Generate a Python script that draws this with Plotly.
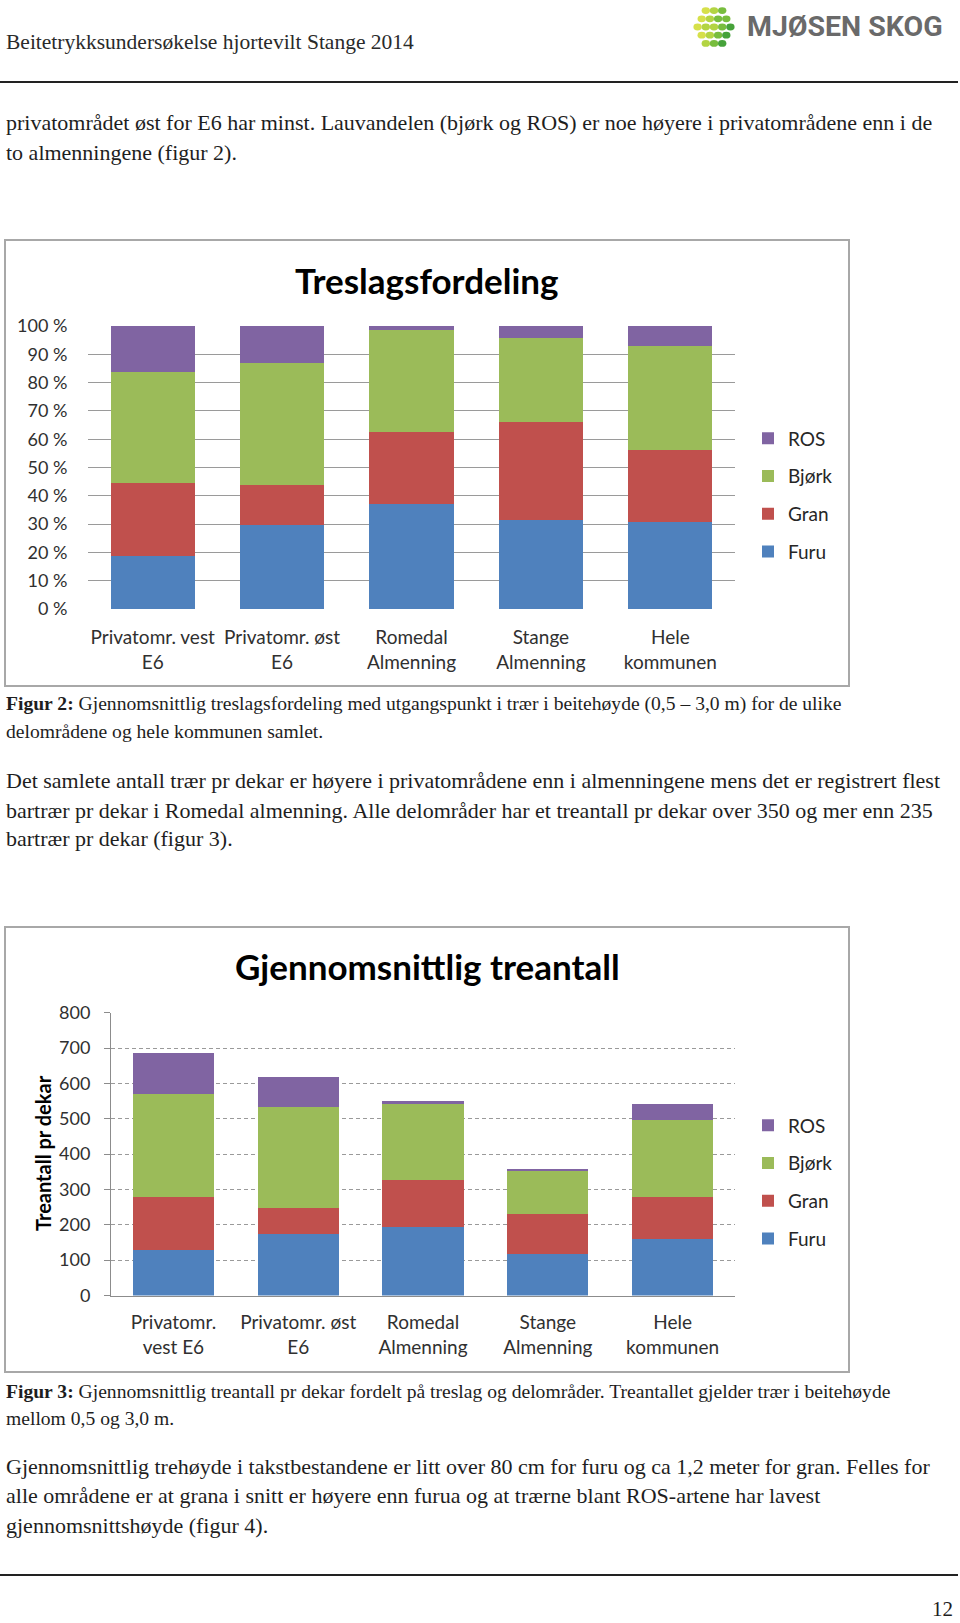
import plotly.graph_objects as go

W, H = 960, 1623


def px(x):
    return x / W


def py(y):
    return 1 - y / H


# ---------------- data ----------------
species = ["Furu", "Gran", "Bjørk", "ROS"]
species_colors = ["#4F81BD", "#C0504D", "#9BBB59", "#8064A2"]
legend_rank = [4, 3, 2, 1]

categories_fig2 = ["Privatomr. vest<br>E6", "Privatomr. øst<br>E6", "Romedal<br>Almenning",
                   "Stange<br>Almenning", "Hele<br>kommunen"]
share_furu = [18.8, 29.6, 37.2, 31.6, 30.8]
share_gran = [25.8, 14.1, 25.5, 34.4, 25.4]
share_bjork = [39.0, 43.1, 35.8, 29.6, 36.6]
share_ros = [16.4, 13.2, 1.5, 4.4, 7.2]

categories_fig3 = ["Privatomr.<br>vest E6", "Privatomr. øst<br>E6", "Romedal<br>Almenning",
                   "Stange<br>Almenning", "Hele<br>kommunen"]
count_furu = [128, 174, 193, 118, 159]
count_gran = [152, 75, 135, 114, 121]
count_bjork = [289, 284, 213, 119, 216]
count_ros = [118, 84, 8, 8, 46]

pct_ticks = [0, 10, 20, 30, 40, 50, 60, 70, 80, 90, 100]
pct_labels = [f"{v} %" for v in pct_ticks]
count_ticks = [0, 100, 200, 300, 400, 500, 600, 700, 800]

shares = [share_furu, share_gran, share_bjork, share_ros]
counts = [count_furu, count_gran, count_bjork, count_ros]

CHART_FONT = "Lato, 'Open Sans', sans-serif"
SERIF = "'Liberation Serif', 'DejaVu Serif', serif"
TXT = "#1e1e1e"

fig = go.Figure()

for name, col, rank, vals in zip(species, species_colors, legend_rank, shares):
    fig.add_trace(go.Bar(x=categories_fig2, y=vals, name=name, marker=dict(color=col, line=dict(width=0)),
                         xaxis="x", yaxis="y", legend="legend", legendgroup="a" + name,
                         legendrank=rank, hoverinfo="x+y+name"))
for name, col, rank, vals in zip(species, species_colors, legend_rank, counts):
    fig.add_trace(go.Bar(x=categories_fig3, y=vals, name=name, marker=dict(color=col, line=dict(width=0)),
                         xaxis="x2", yaxis="y2", legend="legend2", legendgroup="b" + name,
                         legendrank=rank, hoverinfo="x+y+name"))

xtickfont = dict(family=CHART_FONT, size=19, color="#303030")
ytickfont = dict(family=CHART_FONT, size=18, color="#303030")
legfont = dict(family=CHART_FONT, size=19, color="#262626")

fig.update_layout(
    width=W, height=H,
    autosize=False,
    margin=dict(l=0, r=0, t=0, b=0, pad=0),
    paper_bgcolor="white", plot_bgcolor="white",
    barmode="stack", bargap=0.35,
    showlegend=True,
    xaxis=dict(domain=[px(88), px(735)], anchor="y", showgrid=False, showline=False, automargin=False,
               ticks="outside", ticklen=11, tickcolor="rgba(0,0,0,0)", tickfont=xtickfont,
               fixedrange=True),
    yaxis=dict(domain=[py(609), py(326)], anchor="x", range=[0, 100], tickvals=pct_ticks,
               ticktext=pct_labels, showgrid=True, gridcolor="#9a9a9a", gridwidth=1, automargin=False,
               zeroline=False, showline=False, ticks="outside", ticklen=16,
               tickcolor="rgba(0,0,0,0)", tickfont=ytickfont, fixedrange=True),
    xaxis2=dict(domain=[px(111), px(735)], anchor="y2", showgrid=False, showline=True, automargin=False,
                linecolor="#8c8c8c", linewidth=1, ticks="outside", ticklen=10,
                tickcolor="rgba(0,0,0,0)", tickfont=xtickfont, fixedrange=True),
    yaxis2=dict(domain=[py(1295.5), py(1012.8)], anchor="x2", range=[0, 800], tickvals=count_ticks,
                showgrid=True, gridcolor="#9a9a9a", gridwidth=1, griddash="4px,3px", automargin=False,
                zeroline=False, showline=True, linecolor="#8c8c8c", linewidth=1,
                ticks="outside", ticklen=6, tickcolor="#8c8c8c", ticklabelstandoff=10,
                tickfont=ytickfont, fixedrange=True),
    legend=dict(x=px(748), y=py(495), xanchor="left", yanchor="middle",
                traceorder="grouped", tracegroupgap=10,
                font=legfont, bgcolor="rgba(0,0,0,0)"),
    legend2=dict(x=px(748), y=py(1182), xanchor="left", yanchor="middle",
                 traceorder="grouped", tracegroupgap=10,
                 font=legfont, bgcolor="rgba(0,0,0,0)"),
)

shapes = []
# chart frames
shapes.append(dict(type="rect", xref="paper", yref="paper", x0=px(5), x1=px(849), y0=py(240), y1=py(686),
                   line=dict(color="#a8a8a8", width=2), layer="below"))
shapes.append(dict(type="rect", xref="paper", yref="paper", x0=px(5), x1=px(849), y0=py(927), y1=py(1372),
                   line=dict(color="#a8a8a8", width=2), layer="below"))
# page rules
shapes.append(dict(type="line", xref="paper", yref="paper", x0=0, x1=px(958), y0=py(82), y1=py(82),
                   line=dict(color="#222222", width=2)))
shapes.append(dict(type="line", xref="paper", yref="paper", x0=0, x1=px(958), y0=py(1575), y1=py(1575),
                   line=dict(color="#222222", width=2)))

# logo: cluster of rounded tiles inside a circle
cx, cy, R = 714, 27, 23
step = 8.2
for j in range(-3, 4):
    for i in range(-3, 4):
        ox = cx + i * step + (step / 2 if j % 2 else 0)
        oy = cy + j * step
        if (ox - cx) ** 2 + (oy - cy) ** 2 > (R - 3) ** 2:
            continue
        t = (ox - (cx - R)) / (2 * R) + 0.15 * (oy - cy) / R
        if t < 0.32:
            col = "#d6e04a"
        elif t < 0.52:
            col = "#b3d443"
        elif t < 0.72:
            col = "#78bd3e"
        else:
            col = "#46a23a"
        shapes.append(dict(type="circle", xref="paper", yref="paper",
                           x0=px(ox - 4.2), x1=px(ox + 4.2), y0=py(oy + 3.4), y1=py(oy - 3.4),
                           fillcolor=col, line=dict(width=0)))
fig.update_layout(shapes=shapes)

annotations = []


def text(x, y, s, size=22, font=SERIF, color=TXT, xanchor="left", **kw):
    annotations.append(dict(x=px(x), y=py(y), xref="paper", yref="paper", text=s, showarrow=False,
                            xanchor=xanchor, yanchor="middle", align="left",
                            font=dict(family=font, size=size, color=color), **kw))


# header
text(4, 42, "Beitetrykksundersøkelse hjortevilt Stange 2014", size=21.5, color="#2a2a2a")
text(745, 26, "<b>MJØSEN SKOG</b>", size=28.5, font="Roboto, sans-serif", color="#6a6a6a")

# body
text(4, 122, "privatområdet øst for E6 har minst. Lauvandelen (bjørk og ROS) er noe høyere i privatområdene enn i de")
text(4, 152, "to almenningene (figur 2).")

# chart titles
text(427, 280, "<b>Treslagsfordeling</b>", size=35, font=CHART_FONT, color="#000000", xanchor="center")
text(427, 966, "<b>Gjennomsnittlig treantall</b>", size=35, font=CHART_FONT, color="#000000", xanchor="center")
text(43, 1153, "<b>Treantall pr dekar</b>", size=20, font=CHART_FONT, color="#000000", xanchor="center",
     textangle=-90)

# captions and paragraphs
text(4, 704, "<b>Figur 2:</b> Gjennomsnittlig treslagsfordeling med utgangspunkt i trær i beitehøyde (0,5 – 3,0 m) for de ulike", size=19.6)
text(4, 731, "delområdene og hele kommunen samlet.", size=19.6)
text(4, 780, "Det samlete antall trær pr dekar er høyere i privatområdene enn i almenningene mens det er registrert flest")
text(4, 810, "bartrær pr dekar i Romedal almenning. Alle delområder har et treantall pr dekar over 350 og mer enn 235")
text(4, 839, "bartrær pr dekar (figur 3).")
text(4, 1391, "<b>Figur 3:</b> Gjennomsnittlig treantall pr dekar fordelt på treslag og delområder. Treantallet gjelder trær i beitehøyde", size=19.6)
text(4, 1418, "mellom 0,5 og 3,0 m.", size=19.6)
text(4, 1466, "Gjennomsnittlig trehøyde i takstbestandene er litt over 80 cm for furu og ca 1,2 meter for gran. Felles for")
text(4, 1495, "alle områdene er at grana i snitt er høyere enn furua og at trærne blant ROS-artene har lavest")
text(4, 1525, "gjennomsnittshøyde (figur 4).")
text(955, 1609, "12", size=21, xanchor="right")

fig.update_layout(annotations=annotations)

fig.write_html("out.html", config=dict(displayModeBar=False),
               post_script="document.body.style.margin='0';document.body.style.overflow='hidden';")
